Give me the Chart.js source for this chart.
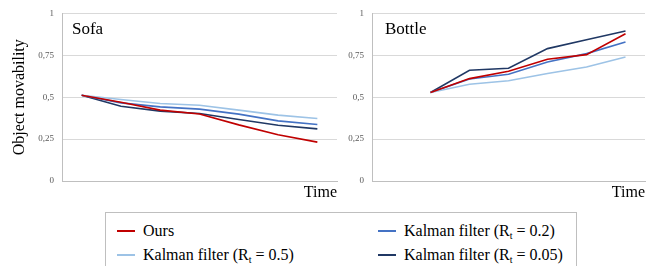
<!DOCTYPE html>
<html>
<head>
<meta charset="utf-8">
<script src="https://cdn.jsdelivr.net/npm/chart.js@4.4.1/dist/chart.umd.min.js"></script>
<style>
    body { margin: 0; background: #fff; width: 654px; height: 266px; overflow: hidden; position: relative; font-family: "Liberation Serif", serif; }
    .panel { position: absolute; top: 0; height: 205px; }
    #left { left: 0; width: 342px; }
    #right { left: 330px; width: 324px; }
    #legend { position: absolute; left: 105px; top: 212px; width: 472px; height: 60px; border: 1px solid #bfbfbf; box-sizing: border-box; }
    .item { position: absolute; font-size: 16px; color: #000; white-space: nowrap; line-height: 20px; }
    .item .swatch { display: inline-block; width: 18px; height: 2px; vertical-align: middle; margin-right: 8px; position: relative; top: -1px; }
    .item sub { font-size: 10px; vertical-align: -3px; line-height: 0; }
</style>
</head>
<body>
<div class="panel" id="left"><canvas id="sofaChart"></canvas></div>
<div class="panel" id="right"><canvas id="bottleChart"></canvas></div>
<div id="legend"></div>
<script>
var timeSteps = ['t1', 't2', 't3', 't4', 't5', 't6', 't7'];
var yTickLabels = ['0', '0,25', '0,5', '0,75', '1'];

var seriesNames = ['Ours', 'Kalman filter (R<sub>t</sub> = 0.5)', 'Kalman filter (R<sub>t</sub> = 0.2)', 'Kalman filter (R<sub>t</sub> = 0.05)'];
var seriesColors = ['#C00000', '#9DC3E6', '#4472C4', '#203864'];

// Sofa
var sofaOurs = [0.512, 0.470, 0.423, 0.400, 0.335, 0.276, 0.232];
var sofaKf05 = [0.512, 0.486, 0.462, 0.452, 0.423, 0.393, 0.373];
var sofaKf02 = [0.512, 0.466, 0.442, 0.429, 0.399, 0.359, 0.337];
var sofaKf005 = [0.512, 0.446, 0.417, 0.403, 0.367, 0.333, 0.311];

// Bottle (first step empty)
var bottleOurs = [null, 0.528, 0.611, 0.655, 0.726, 0.754, 0.879];
var bottleKf05 = [null, 0.528, 0.577, 0.598, 0.641, 0.680, 0.740];
var bottleKf02 = [null, 0.528, 0.609, 0.637, 0.710, 0.760, 0.829];
var bottleKf005 = [null, 0.528, 0.661, 0.673, 0.790, 0.843, 0.895];

var serif = 'Liberation Serif';

var panelLabel = {
    id: 'panelLabel',
    afterDraw: function(chart, args, opts) {
        var ctx = chart.ctx;
        ctx.save();
        ctx.font = '17px "Liberation Serif"';
        ctx.fillStyle = '#000';
        ctx.textBaseline = 'middle';
        ctx.fillText(opts.text, chart.chartArea.left + opts.dx, chart.chartArea.top + 16);
        ctx.restore();
    }
};

function makeDatasets(lists) {
    return lists.map(function(d, i) {
        return {
            label: seriesNames[i].replace(/<\/?sub>/g, ''),
            data: d,
            borderColor: seriesColors[i],
            backgroundColor: seriesColors[i],
            borderWidth: 1.6,
            pointRadius: 0,
            tension: 0,
            fill: false
        };
    });
}

function makeChart(id, lists, label, axisWidth, showTitle, padRight, dx) {
    return new Chart(document.getElementById(id), {
        type: 'line',
        data: { labels: timeSteps, datasets: makeDatasets(lists) },
        plugins: [panelLabel],
        options: {
            responsive: true,
            maintainAspectRatio: false,
            animation: false,
            layout: { padding: { top: 13, right: padRight, bottom: 3, left: 0 } },
            plugins: {
                legend: { display: false },
                tooltip: { enabled: false },
                panelLabel: { text: label, dx: dx }
            },
            scales: {
                x: {
                    offset: true,
                    ticks: { display: false },
                    grid: { display: false },
                    border: { display: true, color: '#bfbfbf', width: 1 },
                    title: { display: true, text: 'Time', align: 'end', color: '#000', font: { family: serif, size: 16 }, padding: { top: 0, bottom: 0 } },
                    afterFit: function(scale) { scale.height = 21; }
                },
                y: {
                    min: 0,
                    max: 1,
                    ticks: {
                        stepSize: 0.25,
                        padding: 8,
                        color: '#595959',
                        font: { family: serif, size: 9 },
                        callback: function(v, i) { return yTickLabels[i]; }
                    },
                    grid: { color: '#d9d9d9', drawTicks: false },
                    border: { display: true, color: '#bfbfbf', width: 1 },
                    title: { display: showTitle, text: 'Object movability', color: '#000', font: { family: serif, size: 16 }, padding: { top: 10, bottom: 0 } },
                    afterFit: function(scale) { scale.width = axisWidth; }
                }
            }
        }
    });
}

makeChart('sofaChart', [sofaOurs, sofaKf05, sofaKf02, sofaKf005], 'Sofa', 62, true, 5, 10);
makeChart('bottleChart', [bottleOurs, bottleKf05, bottleKf02, bottleKf005], 'Bottle', 42, false, 9, 13);

// legend, column-major in two columns
var legendPos = [
    { left: 11, top: 8 },
    { left: 11, top: 32 },
    { left: 272, top: 8 },
    { left: 272, top: 32 }
];
var legend = document.getElementById('legend');
seriesNames.forEach(function(name, i) {
    var el = document.createElement('div');
    el.className = 'item';
    el.style.left = legendPos[i].left + 'px';
    el.style.top = legendPos[i].top + 'px';
    el.innerHTML = '<span class="swatch" style="background-color:' + seriesColors[i] + '"></span>' + name;
    legend.appendChild(el);
});
</script>
</body>
</html>
